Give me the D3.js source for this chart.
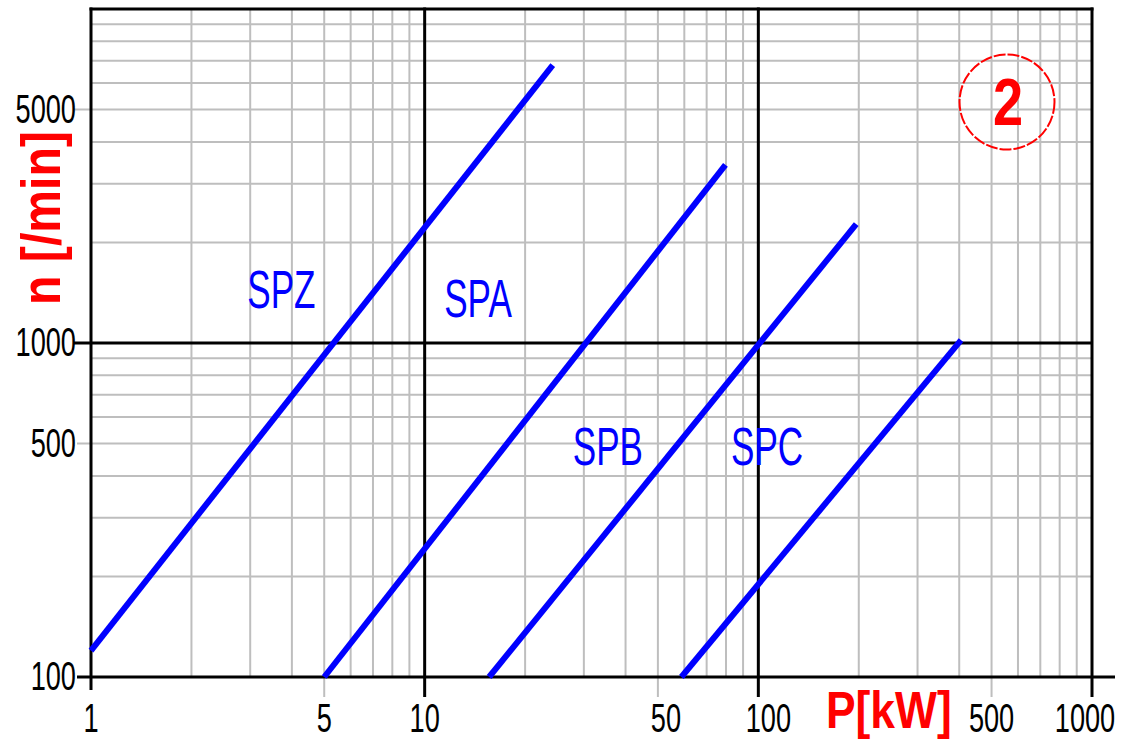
<!DOCTYPE html>
<html>
<head>
<meta charset="utf-8">
<script src="https://cdn.jsdelivr.net/npm/d3@7"></script>
<style>
  html, body { margin: 0; padding: 0; background: #ffffff; }
  svg { display: block; }
</style>
</head>
<body>
<svg id="chart" width="1121" height="740"></svg>
<script>
// ---- data ----
const seriesNames = ["SPZ", "SPA", "SPB", "SPC"];
const spzPoints = [[1, 120], [24.2, 6790]];
const spaPoints = [[5.0, 100], [79.7, 3415]];
const spbPoints = [[15.6, 100], [196.5, 2270]];
const spcPoints = [[58.8, 100], [405, 1020]];
const seriesPoints = [spzPoints, spaPoints, spbPoints, spcPoints];
// label anchor positions in data space (P, n)
const labelP = [3.72, 14.45, 35.4, 106.2];
const labelN = [1274, 1197, 431, 431];

const xTickValues = [1, 5, 10, 50, 100, 500, 1000];
const xTickLabels = ["1", "5", "10", "50", "100", "500", "1000"];
const yTickValues = [100, 500, 1000, 5000];
const yTickLabels = ["100", "500", "1000", "5000"];
const xTitle = "P[kW]";
const yTitle = "n [/min]";
const badgeText = "2";

// ---- layout ----
const svg = d3.select("#chart");
const x = d3.scaleLog().domain([1, 1000]).range([91, 1092]);
const y = d3.scaleLog().domain([100, 10000]).range([677, 9]);

const GRAY = "#bebebe", BLUE = "#0000ff", RED = "#ff0000";

// minor & major grid values
const xMinor = [], yMinor = [];
[1, 10, 100].forEach(d => { for (let k = 2; k <= 9; k++) xMinor.push(d * k); });
[100, 1000].forEach(d => { for (let k = 2; k <= 9; k++) yMinor.push(d * k); });
const xMajor = [10, 100, 1000];
const yMajor = [1000];

const grid = svg.append("g");
// gray vertical
grid.selectAll(".vx").data(xMinor).join("line")
  .attr("x1", d => x(d)).attr("x2", d => x(d))
  .attr("y1", y(10000)).attr("y2", d => xTickValues.includes(d) ? 697 : y(100))
  .attr("stroke", GRAY).attr("stroke-width", 2);
// gray horizontal
grid.selectAll(".hy").data(yMinor).join("line")
  .attr("y1", d => y(d)).attr("y2", d => y(d))
  .attr("x1", d => d === 5000 ? 74 : (d === 500 ? 77 : x(1))).attr("x2", x(1000))
  .attr("stroke", GRAY).attr("stroke-width", 2);
// black verticals
grid.selectAll(".mx").data(xMajor).join("line")
  .attr("x1", d => x(d)).attr("x2", d => x(d))
  .attr("y1", y(10000) - 1.5).attr("y2", 697)
  .attr("stroke", "#000").attr("stroke-width", 3);
// black horizontals
grid.selectAll(".my").data(yMajor).join("line")
  .attr("y1", d => y(d)).attr("y2", d => y(d))
  .attr("x1", 74).attr("x2", x(1000))
  .attr("stroke", "#000").attr("stroke-width", 3);
// axes & border
grid.append("line").attr("x1", x(1)).attr("x2", x(1)).attr("y1", y(10000) - 1.5).attr("y2", 690)
  .attr("stroke", "#000").attr("stroke-width", 3);
grid.append("line").attr("x1", 77).attr("x2", 1115).attr("y1", y(100)).attr("y2", y(100))
  .attr("stroke", "#000").attr("stroke-width", 3);
grid.append("line").attr("x1", x(1) - 1.5).attr("x2", x(1000) + 1.5).attr("y1", y(10000)).attr("y2", y(10000))
  .attr("stroke", "#000").attr("stroke-width", 3);

// ---- series lines ----
const line = d3.line().x(d => x(d[0])).y(d => y(d[1]));
svg.append("g").selectAll("path").data(seriesPoints).join("path")
  .attr("d", line)
  .attr("fill", "none").attr("stroke", BLUE).attr("stroke-width", 6);

// ---- text helper ----
function txt(g, s, tx, ty, o) {
  return g.append("text")
    .attr("transform", `translate(${tx},${ty})` + (o.rot ? ` rotate(${o.rot})` : "") + ` scale(${o.sx || 1},1)`)
    .attr("text-anchor", o.anchor || "middle")
    .attr("font-family", "'Liberation Sans', Arial, sans-serif")
    .attr("font-size", o.size)
    .attr("font-weight", o.weight || "normal")
    .attr("fill", o.fill || "#000")
    .text(s);
}

const tg = svg.append("g");
// x tick labels
const xLabelShift = { "50": 8, "100": 10, "1000": -7 };
xTickValues.forEach((v, i) => {
  txt(tg, xTickLabels[i], x(v) + (xLabelShift[xTickLabels[i]] || 0), 732, { size: 40, sx: 0.68 });
});
// y tick labels
yTickValues.forEach((v, i) => {
  txt(tg, yTickLabels[i], 76, y(v) + 13, { size: 40, sx: 0.68, anchor: "end" });
});

// series labels
seriesNames.forEach((nm, i) => {
  txt(tg, nm, x(labelP[i]), y(labelN[i]), { size: 54, sx: 0.65, fill: BLUE });
});

// axis titles
txt(tg, xTitle, 826, 728, { size: 51, sx: 0.87, weight: "bold", fill: RED, anchor: "start" });
txt(tg, yTitle, 60, 218, { size: 56, sx: 0.86, weight: "bold", fill: RED, rot: -90 });

// badge
svg.append("circle").attr("cx", 1007).attr("cy", 102).attr("r", 47.5)
  .attr("fill", "none").attr("stroke", RED).attr("stroke-width", 2)
  .attr("stroke-dasharray", "12 2");
txt(tg, badgeText, 1008, 125, { size: 66, sx: 0.82, weight: "bold", fill: RED });
</script>
</body>
</html>
